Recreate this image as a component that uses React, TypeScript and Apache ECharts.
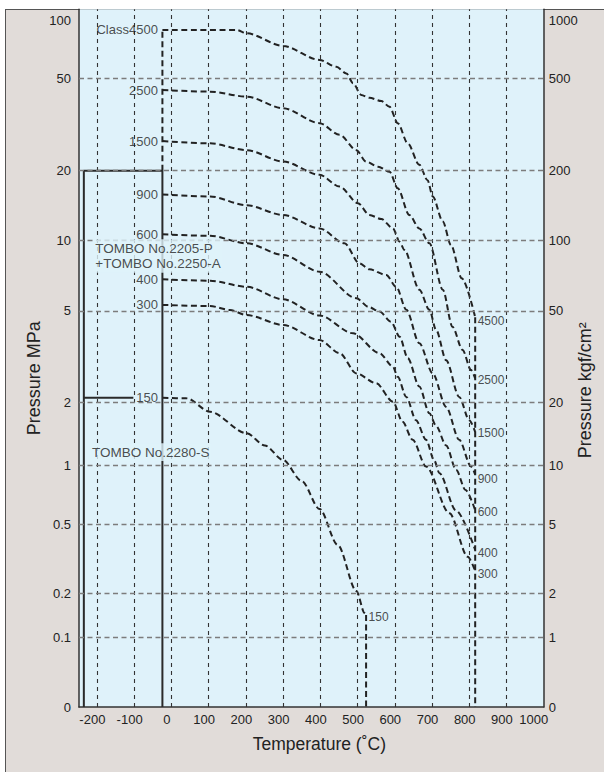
import React, { useEffect, useRef } from 'react';
import * as echarts from 'echarts';

const FONT = '"Liberation Sans", Arial, Helvetica, sans-serif';

// ---- axis ticks ----
const temperatureTicks = [-200, -100, 0, 100, 200, 300, 400, 500, 600, 700, 800, 900, 1000];
const pressureTicksMPa = [0, 0.1, 0.2, 0.5, 1, 2, 5, 10, 20, 50, 100];
const pressureTicksKgf = [0, 1, 2, 5, 10, 20, 50, 100, 200, 500, 1000];
// broken logarithmic pressure scale of the original chart: % of axis height for each tick
const pressureScalePos = [0, 9.99, 16.24, 26.19, 34.59, 43.61, 56.76, 66.83, 76.87, 90.15, 100];

// ---- pressure-temperature rating curves [°C, MPa] ----
const class4500 = [[-24, 81.2], [175, 81.2], [202, 78.5], [300, 69.1], [398, 60.0], [443, 56.0], [470, 52.4], [488, 47.5], [510, 42.3], [532, 41.1], [564, 39.8], [586, 37.6], [608, 32.0], [635, 26.2], [666, 21.2], [688, 18.2], [702, 15.5], [729, 12.1], [751, 9.58], [780, 6.9], [816, 4.7]];
const class2500 = [[-24, 44.4], [104, 43.7], [202, 41.6], [300, 37.1], [398, 32.0], [452, 28.5], [497, 24.5], [523, 21.9], [555, 20.8], [586, 19.8], [608, 16.8], [639, 12.9], [666, 11.3], [693, 9.75], [729, 6.17], [755, 4.27], [782, 3.39], [805, 2.77], [816, 2.55]];
const class1500 = [[-24, 26.8], [104, 26.2], [202, 24.5], [300, 21.9], [398, 19.2], [452, 17.1], [501, 14.5], [532, 12.9], [564, 12.4], [595, 11.3], [613, 9.9], [626, 9.12], [666, 6.17], [693, 5.06], [711, 4.14], [738, 3.06], [773, 2.12], [800, 1.65], [816, 1.45]];
const class900 = [[-24, 15.8], [104, 15.5], [202, 14.2], [300, 12.9], [398, 11.3], [465, 9.75], [505, 8.0], [532, 7.54], [577, 7.13], [604, 6.35], [631, 5.06], [666, 3.62], [702, 2.68], [738, 1.91], [773, 1.33], [805, 0.99], [816, 0.9]];
const class600 = [[-24, 10.65], [104, 10.5], [202, 9.75], [300, 8.69], [398, 7.37], [497, 5.67], [530, 5.2], [559, 4.97], [590, 4.49], [613, 3.87], [635, 3.12], [666, 2.35], [693, 1.78], [711, 1.55], [738, 1.25], [765, 0.95], [790, 0.75], [816, 0.59]];
const class400 = [[-24, 6.83], [104, 6.74], [202, 6.35], [300, 5.61], [398, 4.78], [488, 4.0], [559, 3.28], [595, 2.87], [608, 2.59], [631, 2.12], [657, 1.65], [684, 1.33], [706, 1.06], [720, 0.914], [764, 0.59], [816, 0.356]];
const class300 = [[-24, 5.31], [104, 5.25], [157, 5.05], [202, 4.8], [300, 4.35], [398, 3.74], [452, 3.28], [497, 2.68], [550, 2.43], [595, 2.02], [621, 1.62], [648, 1.33], [684, 0.99], [747, 0.569], [796, 0.326], [816, 0.27]];
const class150 = [[-24, 2.1], [41, 2.09], [104, 1.81], [202, 1.43], [251, 1.249], [300, 1.065], [350, 0.835], [398, 0.599], [447, 0.38], [497, 0.207], [519, 0.147], [523, 0.1425]];

const classNames = ['4500', '2500', '1500', '900', '600', '400', '300', '150'];
const classStartLabels = ['Class4500', '2500', '1500', '900', '600', '400', '300', '150'];
const classCurves = [class4500, class2500, class1500, class900, class600, class400, class300, class150];

// ---- limit lines [°C, MPa] ----
const leftLimit = [[-24, 20], [-24, 81.2]];
const rightLimit = [[816, 4.7], [816, 0]];
const class150Limit = [[523, 0.1425], [523, 0]];
const tombo2205Box = [[-235, 0], [-235, 20], [-24, 20], [-24, 0]];
const tombo2280Top = [[-235, 2.1], [-102, 2.1]];
const tomboLabelTexts = ['TOMBO No.2205-P\n+TOMBO No.2250-A', 'TOMBO No.2280-S'];
const tomboLabelAnchors = [[-211, 8.6], [-220, 1.16]];

// visual offsets of end labels (px)
const endLabelDy = [4, 2, 1, 4, 2, 2.5, 3.5, 2];

function toPos(p: number): number {
  if (p <= 0) return 0;
  const n = pressureTicksMPa.length;
  for (let i = 1; i < n; i++) {
    const a = pressureTicksMPa[i - 1];
    const b = pressureTicksMPa[i];
    if (p <= b || i === n - 1) {
      const pa = pressureScalePos[i - 1];
      const pb = pressureScalePos[i];
      const f = a === 0 ? p / b : (Math.log10(p) - Math.log10(a)) / (Math.log10(b) - Math.log10(a));
      return pa + f * (pb - pa);
    }
  }
  return 100;
}

function nearestTick(v: number): number {
  let best = 0;
  for (let i = 0; i < pressureScalePos.length; i++) {
    if (Math.abs(pressureScalePos[i] - v) < Math.abs(pressureScalePos[best] - v)) best = i;
  }
  return best;
}

const conv = (pts: number[][]) => pts.map(([t, p]) => [t, toPos(p)]);

const PLOT_BG = '#dff2fa';
const INK = '#222';

export default function App() {
  const ref = useRef<HTMLDivElement>(null);

  useEffect(() => {
    if (!ref.current) return;
    const chart = echarts.init(ref.current, undefined, { renderer: 'svg' });

    const curveStyle = { color: INK, width: 2, type: [6, 3.5] as any };

    const curveSeries = classCurves.map((c, i) => ({
      type: 'line',
      name: 'Class ' + classNames[i],
      data: conv(c),
      showSymbol: false,
      smooth: 0.3,
      smoothMonotone: 'x',
      lineStyle: curveStyle,
      z: 3,
      silent: true,
    }));

    const limitSeries = [leftLimit, rightLimit, class150Limit].map((d) => ({
      type: 'line',
      data: conv(d),
      showSymbol: false,
      lineStyle: curveStyle,
      z: 3,
      silent: true,
    }));

    const solidSeries = [tombo2205Box, tombo2280Top].map((d) => ({
      type: 'line',
      data: conv(d),
      showSymbol: false,
      lineStyle: { color: '#2a2a2a', width: 2, type: 'solid' },
      z: 3,
      silent: true,
    }));

    const labelData: any[] = [];
    classCurves.forEach((c, i) => {
      const first = c[0];
      const last = c[c.length - 1];
      labelData.push({
        value: [first[0], toPos(first[1])],
        label: { show: true, position: 'left', distance: 4, formatter: classStartLabels[i], fontSize: 13, color: INK, fontFamily: FONT },
      });
      labelData.push({
        value: [i === classCurves.length - 1 ? last[0] : 816, toPos(last[1])],
        label: { show: true, position: 'right', distance: 2, offset: [0, endLabelDy[i]], formatter: classNames[i], fontSize: 12, color: INK, fontFamily: FONT },
      });
    });
    tomboLabelTexts.forEach((txt, i) => {
      const [t, p] = tomboLabelAnchors[i];
      labelData.push({
        value: [t, toPos(p)],
        label: {
          show: true, position: 'right', distance: 0, formatter: txt, fontSize: 13.5, lineHeight: 15.7,
          color: INK, fontFamily: FONT, backgroundColor: PLOT_BG, padding: [1, 2, 1, 2], align: 'left',
        },
      });
    });

    const labelSeries = {
      type: 'scatter',
      data: labelData,
      symbolSize: 1,
      itemStyle: { color: 'rgba(0,0,0,0)' },
      z: 6,
      silent: true,
    };

    const gridSeries = {
      type: 'line',
      data: [],
      z: 1,
      silent: true,
      markLine: {
        silent: true,
        symbol: ['none', 'none'],
        label: { show: false },
        animation: false,
        data: [
          ...temperatureTicks.filter((t) => t < 1000).map((t) => ({
            xAxis: t,
            lineStyle: { color: '#333', width: 1.1, type: [4, 4] },
          })),
          ...pressureScalePos.filter((p) => p > 0 && p < 100).map((p) => ({
            yAxis: p,
            lineStyle: { color: '#7c7c7c', width: 1.3, type: [5, 3.5] },
          })),
        ],
      },
    };

    const axisLineStyle = { show: true, lineStyle: { color: '#333', width: 1.5 } };

    const option: any = {
      animation: false,
      grid: {
        left: 79, right: 60.3, top: 9.3, bottom: 65,
        show: true, backgroundColor: PLOT_BG, borderWidth: 0,
        outerBoundsMode: 'none',
      },
      xAxis: {
        type: 'value',
        min: -248,
        max: 1000,
        axisLine: { ...axisLineStyle, onZero: false },
        axisTick: { show: false, customValues: temperatureTicks },
        splitLine: { show: false },
        axisLabel: {
          customValues: temperatureTicks,
          margin: 6,
          formatter: (v: number) => (v === 1000 ? '{e|1000}' : '{n|' + v + '}'),
          rich: {
            n: { fontSize: 13, color: INK, fontFamily: FONT, padding: [0, 9, 0, 0] },
            e: { fontSize: 13, color: INK, fontFamily: FONT, padding: [0, 20, 0, 0] },
          },
        },
        name: 'Temperature (˚C)',
        nameLocation: 'middle',
        nameGap: 28,
        nameMoveOverlap: false,
        nameTextStyle: { fontSize: 17.5, color: INK, fontFamily: FONT, padding: [0, 0, 0, 16] },
      },
      yAxis: [
        {
          type: 'value',
          min: 0,
          max: 100,
          position: 'left',
          axisLine: { ...axisLineStyle, onZero: false },
          axisTick: { show: false, customValues: pressureScalePos },
          splitLine: { show: false },
          axisLabel: {
            customValues: pressureScalePos,
            margin: 8,
            fontSize: 13, color: INK, fontFamily: FONT,
            formatter: (v: number) => {
              const i = nearestTick(v);
              const s = String(pressureTicksMPa[i]);
              return i === pressureTicksMPa.length - 1 ? '{t|' + s + '}' : s;
            },
            rich: { t: { fontSize: 13, color: INK, fontFamily: FONT, padding: [22, 0, 0, 0] } },
          },
          name: 'Pressure MPa',
          nameLocation: 'middle',
          nameRotate: 90,
          nameGap: 36,
          nameMoveOverlap: false,
          nameTextStyle: { fontSize: 18, color: INK, fontFamily: FONT, padding: [0, 40, 0, 0] },
        },
        {
          type: 'value',
          min: 0,
          max: 100,
          position: 'right',
          axisLine: { ...axisLineStyle, onZero: false },
          axisTick: { show: false, customValues: pressureScalePos },
          splitLine: { show: false },
          axisLabel: {
            customValues: pressureScalePos,
            margin: 5,
            fontSize: 13, color: INK, fontFamily: FONT,
            formatter: (v: number) => {
              const i = nearestTick(v);
              const s = String(pressureTicksKgf[i]);
              return i === pressureTicksKgf.length - 1 ? '{t|' + s + '}' : s;
            },
            rich: { t: { fontSize: 13, color: INK, fontFamily: FONT, padding: [22, 0, 0, 0] } },
          },
          name: 'Pressure kgf/cm²',
          nameLocation: 'middle',
          nameRotate: 90,
          nameGap: 32,
          nameMoveOverlap: false,
          nameTextStyle: { fontSize: 18, color: INK, fontFamily: FONT, padding: [0, 64, 0, 0] },
        },
      ],
      series: [gridSeries, ...curveSeries, ...limitSeries, ...solidSeries, labelSeries],
    };

    chart.setOption(option);
    return () => chart.dispose();
  }, []);

  return (
    <div style={{ position: 'absolute', left: 0, top: 0, width: 604, height: 772, overflow: 'hidden', background: '#fff' }}>
      <div
        style={{
          position: 'absolute', left: 5, top: 9, width: 640, height: 800,
          background: '#e1dcd9', borderTop: '1px solid #555', borderLeft: '1px solid #555',
        }}
      />
      <div ref={ref} style={{ position: 'absolute', left: 0, top: 0, width: 604, height: 772 }} />
    </div>
  );
}
